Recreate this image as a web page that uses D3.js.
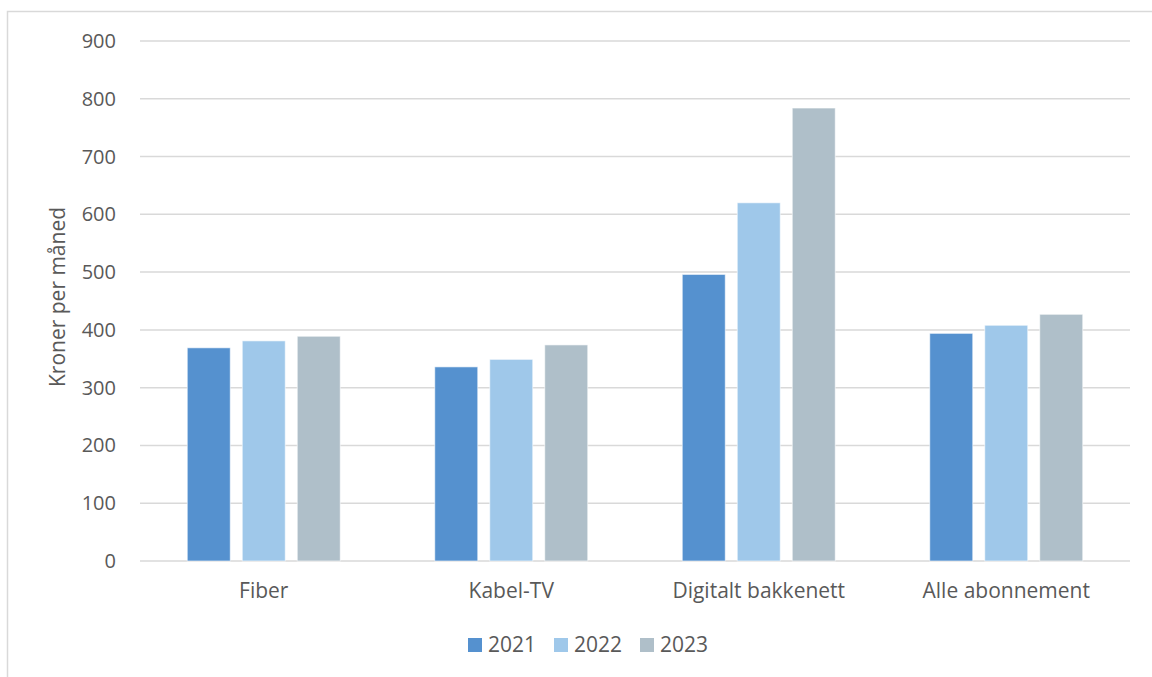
<!DOCTYPE html>
<html>
<head>
<meta charset="utf-8">
<script src="https://cdn.jsdelivr.net/npm/d3@7"></script>
<style>
  body { margin: 0; background: #fff; }
  svg { display: block; font-family: "Open Sans", sans-serif; }
</style>
</head>
<body>
<svg id="chart" width="1152" height="677"></svg>
<script>
// data
const categories = ["Fiber", "Kabel-TV", "Digitalt bakkenett", "Alle abonnement"];
const years = ["2021", "2022", "2023"];
const values2021 = [369, 336, 496, 394];
const values2022 = [381, 349, 620, 408];
const values2023 = [389, 374, 784, 427];
const yTicks = [0, 100, 200, 300, 400, 500, 600, 700, 800, 900];
const colors = ["#5591CF", "#9FC8EA", "#AFBFC9"];

const seriesValues = [values2021, values2022, values2023];
const rows = categories.map((c, i) => ({
  cat: c,
  vals: years.map((y, j) => ({ year: y, value: seriesValues[j][i], color: colors[j] }))
}));

const svg = d3.select("#chart");
const plot = { left: 140, right: 1130, top: 41, bottom: 561 };

// ramme rundt diagrammet
svg.append("rect")
  .attr("x", 7.5).attr("y", 11.5)
  .attr("width", 1160).attr("height", 700)
  .attr("fill", "none")
  .attr("stroke", "#d9d9d9")
  .attr("stroke-width", 1.5);

const y = d3.scaleLinear().domain([0, 900]).range([plot.bottom, plot.top]);
const x0 = d3.scaleBand().domain(categories).range([plot.left, plot.right]).padding(0);
const groupW = 153;
const x1 = d3.scaleBand()
  .domain(years)
  .range([(x0.bandwidth() - groupW) / 2, (x0.bandwidth() + groupW) / 2])
  .paddingInner(0.218)
  .paddingOuter(0);

// rutenett
svg.append("g")
  .selectAll("line")
  .data(yTicks)
  .join("line")
  .attr("x1", plot.left)
  .attr("x2", plot.right)
  .attr("y1", (d) => y(d))
  .attr("y2", (d) => y(d))
  .attr("stroke", "#d9d9d9")
  .attr("stroke-width", 1.5);

// y-akse tekster
svg.append("g")
  .selectAll("text")
  .data(yTicks)
  .join("text")
  .attr("x", 116)
  .attr("y", (d) => y(d))
  .attr("dy", "0.35em")
  .attr("text-anchor", "end")
  .attr("fill", "#595959")
  .style("font-size", "20px")
  .text((d) => d);

// søyler
const groups = svg.append("g")
  .selectAll("g")
  .data(rows)
  .join("g")
  .attr("transform", (d) => `translate(${x0(d.cat)},0)`);

groups.selectAll("rect")
  .data((d) => d.vals)
  .join("rect")
  .attr("x", (d) => x1(d.year))
  .attr("y", (d) => y(d.value))
  .attr("width", x1.bandwidth())
  .attr("height", (d) => y(0) - y(d.value))
  .attr("fill", (d) => d.color)
  .attr("stroke", "#fff")
  .attr("stroke-opacity", 0.6)
  .attr("stroke-width", 1);

// x-akse tekster
svg.append("g")
  .selectAll("text")
  .data(categories)
  .join("text")
  .attr("x", (d) => x0(d) + x0.bandwidth() / 2)
  .attr("y", 591)
  .attr("dy", "0.35em")
  .attr("text-anchor", "middle")
  .attr("fill", "#595959")
  .style("font-size", "21px")
  .text((d) => d);

// akse-tittel
svg.append("text")
  .attr("transform", "translate(58,297) rotate(-90)")
  .attr("text-anchor", "middle")
  .attr("dy", "0.35em")
  .attr("fill", "#595959")
  .style("font-size", "21px")
  .text("Kroner per måned");

// forklaring
const legend = svg.append("g")
  .selectAll("g")
  .data(years)
  .join("g")
  .attr("transform", (d, i) => `translate(${468 + i * 86},645)`);

legend.append("rect")
  .attr("x", 0).attr("y", -7)
  .attr("width", 14).attr("height", 14)
  .attr("fill", (d, i) => colors[i]);

legend.append("text")
  .attr("x", 20)
  .attr("dy", "0.35em")
  .attr("fill", "#595959")
  .style("font-size", "21px")
  .text((d) => d);
</script>
</body>
</html>
